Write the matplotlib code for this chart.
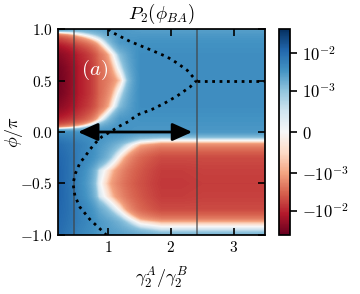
import numpy as np
import matplotlib
matplotlib.use("Agg")
import matplotlib.pyplot as plt
from matplotlib.colors import SymLogNorm

plt.rcParams['mathtext.fontset'] = 'cm'
plt.rcParams['font.size'] = 10
plt.rcParams['axes.linewidth'] = 1.25

# grid: x = gamma2A/gamma2B, rows = phi/pi (top to bottom)
x_grid = [0.2, 0.53, 0.86, 1.19, 1.52, 1.85, 2.18, 2.51, 2.84, 3.17, 3.5]
phi_grid = [1.0, 0.875, 0.75, 0.625, 0.5, 0.375, 0.25, 0.125, 0.0,
            -0.125, -0.25, -0.375, -0.5, -0.625, -0.75, -0.875, -1.0]
# P2 values in units of 1e-3
p2_grid = [
    [3, 2, 2.5, 3, 2.5, 2.5, 2.5, 2.5, 2.5, 2.5, 2.5],
    [-8, -3, -0.3, 3, 3.5, 3.5, 3.5, 3.5, 3.5, 3.5, 3.5],
    [-25, -10, -2.5, 1.2, 4, 4, 4, 4, 4, 4, 4],
    [-35, -12, -3, 0.4, 4, 4, 4, 4, 4, 4, 4],
    [-38, -12, -3, -0.6, 4, 4, 4, 4, 4, 4, 4],
    [-35, -12, -3, 0.4, 4, 4, 4, 4, 4, 4, 4],
    [-25, -10, -2.5, 1.2, 4, 4, 4, 4, 4, 4, 4],
    [-10, -5, -0.3, 3, 3.5, 3.5, 3.5, 3.5, 3.5, 3.5, 3.5],
    [4, 3.3, 3.5, 3.5, 3, 3, 3, 3, 3, 3, 3],
    [10, 6, 3, 1.2, -0.8, -1.5, -1.5, -1.5, -1.5, -1.5, -1.5],
    [12, 6, 2.5, -0.3, -3, -5, -5, -5, -5, -5, -5],
    [13, 5, 0.5, -1.5, -4, -6.5, -6.5, -6, -6, -6, -6],
    [13, 4.5, 0.2, -2, -4.5, -7, -7, -6.5, -6.5, -6.5, -6.5],
    [13, 5, 0.5, -1.5, -4, -6.5, -6.5, -6, -6, -6, -6],
    [12, 6, 2, -0.2, -3, -5, -5, -5, -5, -5, -5],
    [11, 6, 3, 1.5, -0.3, -0.8, -0.8, -0.8, -0.8, -0.8, -0.8],
    [10, 5, 3, 2.5, 2, 1.5, 1.5, 1.5, 1.5, 1.5, 1.5],
]

# dotted curve
curve_x = [1.0, 1.06, 1.35, 1.67, 1.94, 2.10, 2.26, 2.36, 2.41, 2.31, 2.10, 1.90,
           1.70, 1.46, 1.32, 1.19, 1.03, 0.90, 0.79, 0.71, 0.63, 0.55, 0.48,
           0.44, 0.47, 0.55, 0.71, 0.92, 0.97]
curve_phi = [1.0, 0.97, 0.88, 0.80, 0.73, 0.67, 0.60, 0.53, 0.50, 0.44, 0.35, 0.28,
             0.22, 0.165, 0.10, 0.06, 0.0, -0.046, -0.11, -0.17, -0.24, -0.30, -0.40,
             -0.50, -0.62, -0.73, -0.85, -0.97, -1.0]
flat_x = [2.41, 3.5]
flat_phi = [0.5, 0.5]

vlines_x = [0.45, 2.42]
arrow_x = [0.52, 2.34]
arrow_phi = 0.0

xticks = [1, 2, 3]
xticklabels = [r'$1$', r'$2$', r'$3$']
yticks = [-1.0, -0.5, 0.0, 0.5, 1.0]
yticklabels = [r'$-1.0$', r'$-0.5$', r'$0.0$', r'$0.5$', r'$1.0$']
cticks = [-1e-2, -1e-3, 0, 1e-3, 1e-2]
cticklabels = [r'$-10^{-2}$', r'$-10^{-3}$', r'$0$', r'$10^{-3}$', r'$10^{-2}$']

z = np.array(p2_grid) * 1e-3
dx = x_grid[1] - x_grid[0]
dphi = phi_grid[0] - phi_grid[1]

fig = plt.figure(figsize=(3.6, 2.94), dpi=100)
ax = fig.add_axes([0.161, 0.201, 0.575, 0.70])
cax = fig.add_axes([0.775, 0.201, 0.031, 0.70])

norm = SymLogNorm(linthresh=1e-3, linscale=1.0, vmin=-0.045, vmax=0.045, base=10)
im = ax.imshow(z, cmap='RdBu', norm=norm, origin='upper', aspect='auto',
               interpolation='bilinear', interpolation_stage='data',
               extent=[x_grid[0] - dx / 2, x_grid[-1] + dx / 2,
                       phi_grid[-1] - dphi / 2, phi_grid[0] + dphi / 2])

for xv in vlines_x:
    ax.axvline(xv, color='0.25', alpha=0.6, lw=1.4)

ax.plot(curve_x, curve_phi, color='k', ls=':', lw=2)
ax.plot(flat_x, flat_phi, color='k', ls=':', lw=2)

ax.annotate('', xy=(arrow_x[0], arrow_phi), xytext=(arrow_x[1], arrow_phi),
            arrowprops=dict(arrowstyle='<|-|>,head_length=0.4,head_width=0.18',
                            lw=2, color='k', shrinkA=0, shrinkB=0, mutation_scale=30))

ax.text(0.79, 0.6, r'$(a)$', color='white', fontsize=15, ha='center', va='center')

ax.set_xlim(0.2, 3.5)
ax.set_ylim(-1.0, 1.0)
ax.set_xticks(xticks)
ax.set_xticklabels(xticklabels)
ax.set_yticks(yticks)
ax.set_yticklabels(yticklabels)
ax.tick_params(direction='in', top=True, right=True, length=5, width=1.2, labelsize=11)
ax.set_xlabel(r'$\gamma_2^A/\gamma_2^B$', fontsize=13)
ax.set_ylabel(r'$\phi/\pi$', fontsize=13)
ax.xaxis.set_label_coords(0.5, -0.15)
ax.yaxis.set_label_coords(-0.16, 0.5)
ax.set_title(r'$P_2(\phi_{BA})$', fontsize=13.5, pad=7)

cb = fig.colorbar(im, cax=cax)
cb.set_ticks(cticks)
cb.set_ticklabels(cticklabels)
cb.ax.minorticks_off()
cb.ax.tick_params(length=5, width=1.2, labelsize=12)
cb.outline.set_linewidth(1.25)

fig.savefig('out.png', dpi=100)
